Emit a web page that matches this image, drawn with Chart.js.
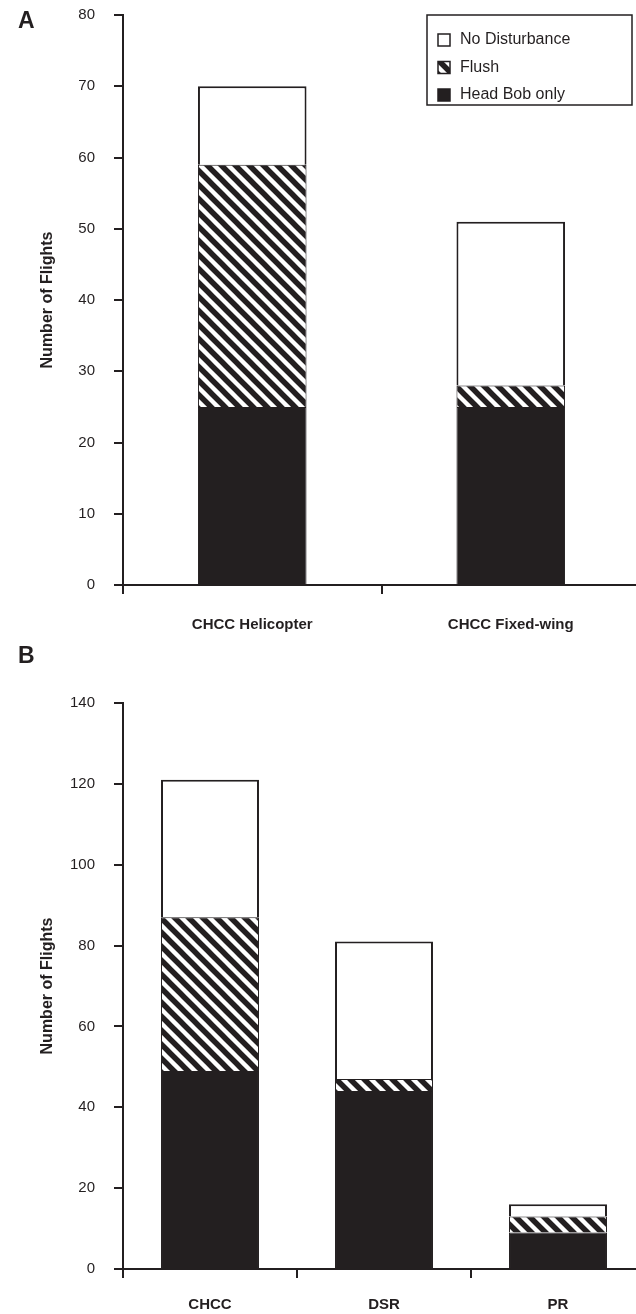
<!DOCTYPE html>
<html>
<head>
<meta charset="utf-8">
<script src="https://cdn.jsdelivr.net/npm/chart.js@4.4.0/dist/chart.umd.min.js"></script>
<style>
body { margin: 0; background: #fff; width: 636px; height: 1314px; position: relative; overflow: hidden; font-family: "Liberation Sans", Arial, sans-serif; }
canvas { position: absolute; left: 0; }
.tag { position: absolute; left: 18px; font-weight: bold; font-size: 23px; color: #231f20; line-height: 1; }
</style>
</head>
<body>
<canvas id="chartA" width="640" height="651" style="top:0"></canvas>
<canvas id="chartB" width="645" height="670" style="top:645px"></canvas>
<div class="tag" style="top:9px">A</div>
<div class="tag" style="top:644px">B</div>
<script>
// panel A
const labelsA = ['CHCC Helicopter', 'CHCC Fixed-wing'];
const headBobA = [25, 25];
const flushA = [34, 3];
const noDistA = [11, 23];

// panel B
const labelsB = ['CHCC', 'DSR', 'PR'];
const headBobB = [49, 44, 9];
const flushB = [38, 3, 4];
const noDistB = [34, 34, 3];

const ink = '#231f20';
const font = '"Liberation Sans", Arial, sans-serif';

// diagonal hatch for "Flush"
function hatch() {
    const p = document.createElement('canvas');
    p.width = 14; p.height = 14;
    const c = p.getContext('2d');
    c.fillStyle = '#fff';
    c.fillRect(0, 0, 14, 14);
    c.strokeStyle = ink;
    c.lineWidth = 5.5;
    c.beginPath();
    c.moveTo(-7, -7); c.lineTo(21, 21);
    c.moveTo(-7, 7); c.lineTo(7, 21);
    c.moveTo(7, -7); c.lineTo(21, 7);
    c.stroke();
    return c.createPattern(p, 'repeat');
}
const flushFill = hatch();

// bordered legend box, top item = last dataset
const boxLegend = {
    id: 'boxLegend',
    afterDraw(chart, args, opts) {
        if (!opts.show) return;
        const c = chart.ctx;
        c.save();
        c.strokeStyle = ink;
        c.lineWidth = 1.5;
        c.strokeRect(opts.x, opts.y, opts.w, opts.h);
        const sets = chart.data.datasets.slice().reverse();
        sets.forEach((ds, i) => {
            const y = opts.y + opts.first + i * opts.gap;
            c.fillStyle = ds.backgroundColor;
            c.fillRect(opts.x + 11, y - 6, 12, 12);
            c.lineWidth = 1.5;
            c.strokeRect(opts.x + 11, y - 6, 12, 12);
            c.fillStyle = ink;
            c.font = '16px ' + font;
            c.textBaseline = 'middle';
            c.fillText(ds.label, opts.x + 33, y);
        });
        c.restore();
    }
};

function makeChart(id, labels, headBob, flush, noDist, max, step, barPct, top, xHeight, xPad, legend) {
    const ctx = document.getElementById(id).getContext('2d');
    return new Chart(ctx, {
        type: 'bar',
        data: {
            labels: labels,
            datasets: [
                { label: 'Head Bob only', data: headBob, backgroundColor: ink, borderColor: ink, borderWidth: 1 },
                { label: 'Flush', data: flush, backgroundColor: flushFill, borderColor: ink, borderWidth: 1 },
                { label: 'No Disturbance', data: noDist, backgroundColor: '#fff', borderColor: ink, borderWidth: 2 }
            ]
        },
        options: {
            responsive: false,
            animation: false,
            layout: { padding: { top: top, right: 0, bottom: 0, left: 0 } },
            datasets: { bar: { categoryPercentage: 1, barPercentage: barPct } },
            plugins: {
                legend: { display: false },
                tooltip: { enabled: false },
                boxLegend: legend
            },
            scales: {
                x: {
                    stacked: true,
                    afterFit: s => { s.height = xHeight; s.paddingLeft = 0; s.paddingRight = 0; },
                    border: { color: ink, width: 2 },
                    grid: { offset: true, drawOnChartArea: false, drawTicks: true, tickLength: 9, color: ink, lineWidth: 2 },
                    ticks: { color: ink, padding: xPad, font: { family: font, size: 15, weight: 'bold' } }
                },
                y: {
                    stacked: true,
                    min: 0,
                    max: max,
                    afterFit: s => { s.width = 123; s.paddingTop = 0; s.paddingBottom = 0; },
                    border: { color: ink, width: 2 },
                    grid: { drawOnChartArea: false, drawTicks: true, tickLength: 9, color: ink, lineWidth: 2 },
                    ticks: { stepSize: step, color: ink, padding: 19, font: { family: font, size: 15 } },
                    title: {
                        display: true,
                        text: 'Number of Flights',
                        color: ink,
                        padding: { top: 38, bottom: 0 },
                        font: { family: font, size: 16, weight: 'bold' }
                    }
                }
            }
        },
        plugins: [boxLegend]
    });
}

makeChart('chartA', labelsA, headBobA, flushA, noDistA, 80, 10, 0.42, 15, 66, 22,
    { show: true, x: 427, y: 15, w: 205, h: 90, first: 25, gap: 27.5 });
makeChart('chartB', labelsB, headBobB, flushB, noDistB, 140, 20, 0.563, 58, 46, 18,
    { show: false });
</script>
</body>
</html>
